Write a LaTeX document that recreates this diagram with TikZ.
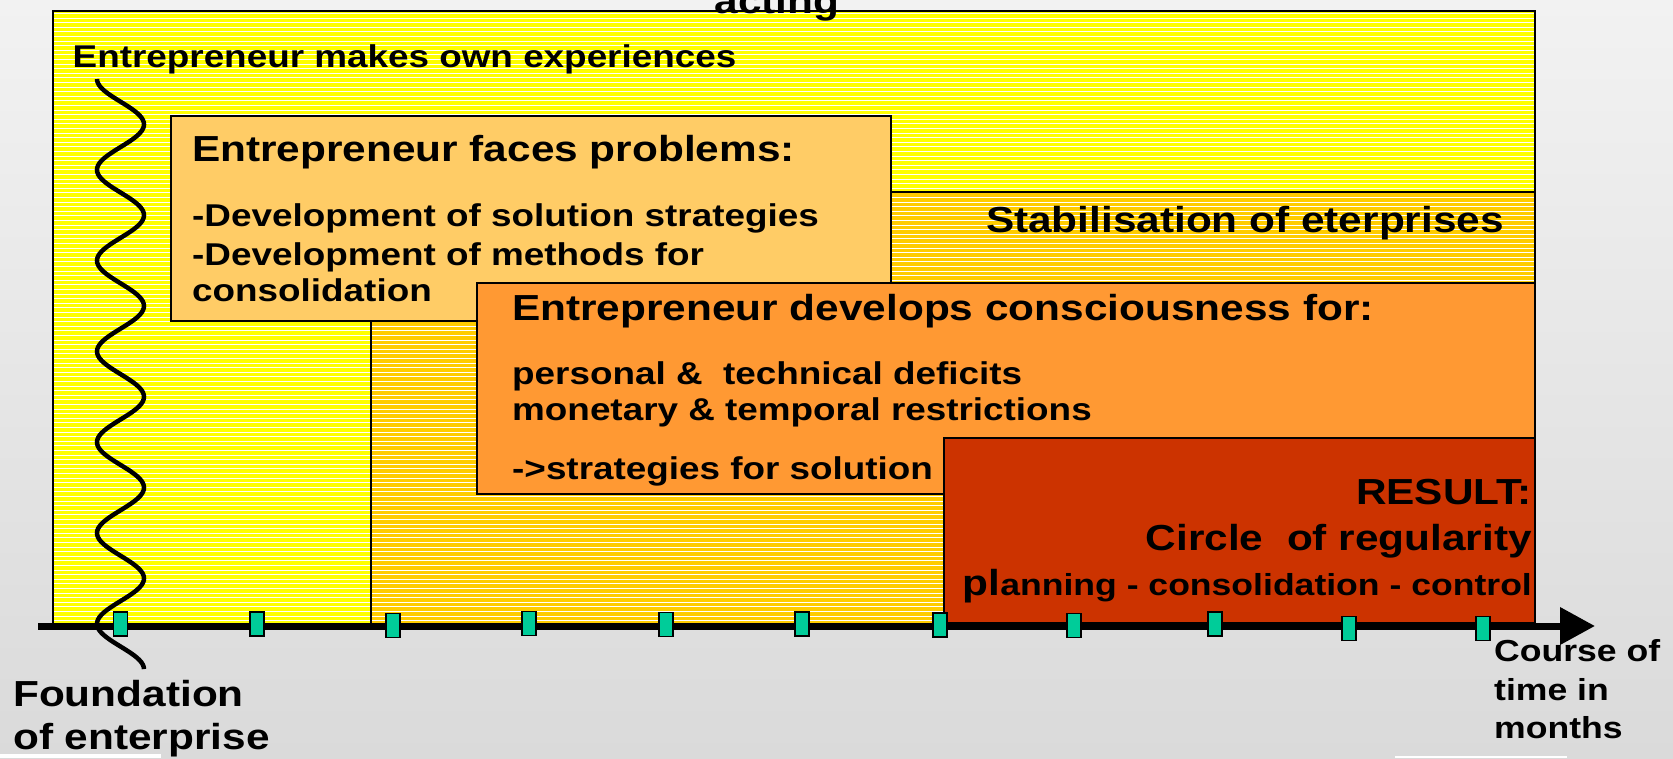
\documentclass[tikz,border=0pt]{standalone}
\usepackage{fontspec}
\setmainfont{Liberation Sans}[FakeStretch=1.17]
\usepackage{tikz}
\usetikzlibrary{arrows.meta}
\definecolor{slideyellow}{HTML}{FFFF00}
\definecolor{slidegold}{HTML}{FFCC00}
\definecolor{probcolor}{HTML}{FFCC66}
\definecolor{conscolor}{HTML}{FF9933}
\definecolor{resultcolor}{HTML}{CC3300}
\definecolor{tickcolor}{HTML}{00CC99}
\definecolor{bgtop}{HTML}{F2F2F2}
\definecolor{bgbot}{HTML}{DADADA}
\newcommand\headsize{\bfseries\fontsize{36.2}{43}\selectfont}
\newcommand\bodysize{\bfseries\fontsize{31.5}{38}\selectfont}
\newcommand\notesize{\bfseries\fontsize{30.4}{37}\selectfont}
\tikzstyle{head}=[inner sep=0pt,font=\headsize]
\tikzstyle{body}=[inner sep=0pt,font=\bodysize]
\tikzstyle{note}=[inner sep=0pt,font=\notesize]
\tikzstyle{hatch}=[white,line width=1.1pt]
\tikzstyle{frame}=[line width=1.5pt]
\tikzstyle{tick}=[draw,line width=1.5pt,fill=tickcolor,minimum width=14pt,minimum height=24pt,inner sep=0pt]
\tikzstyle{axis}=[line width=7pt,-{Triangle[length=35pt,width=36pt]}]
\tikzstyle{wave}=[line width=4.5pt]

\begin{document}
\begin{tikzpicture}[x=1pt,y=-1pt]
	\path[use as bounding box,top color=bgtop,bottom color=bgbot] (0,0) rectangle (1673,758);
	\fill[white] (0,754) rectangle (161,758);
	\fill[white] (1395,756) rectangle (1567,758);
	\fill[slideyellow] (53,11) rectangle (1535,624);
	\fill[slidegold] (371,192) rectangle (1535,624);
	\foreach \y in {13.5,18.1,...,622} \draw[hatch] (54,\y) -- (1534,\y);
	\draw[frame] (53,11) rectangle (1535,624);
	\draw[frame] (371,192) -- (371,624);
	\draw[line width=2.5pt] (371,192) -- (1535,192);
	\draw[frame,fill=probcolor] (171,116) rectangle (891,321);
	\draw[frame,fill=conscolor] (477,283) rectangle (1535,494);
	\draw[frame,fill=resultcolor] (944,438) rectangle (1535,623);
	\node[head,anchor=base] (acting) at (777,13) {acting};
	\node[body,anchor=base west] (own) at (72.5,67) {Entrepreneur makes own experiences};
	\node[head,anchor=base west] (faces) at (192,161) {Entrepreneur faces problems:};
	\node[body,anchor=base west] (dev1) at (192,226) {-Development of solution strategies};
	\node[body,anchor=base west] (dev2) at (192,265) {-Development of methods for};
	\node[body,anchor=base west] (dev3) at (192,301) {consolidation};
	\node[head,anchor=base east] (stab) at (1504,232) {Stabilisation of eterprises};
	\node[head,anchor=base west] (cons) at (512,320) {Entrepreneur develops consciousness for:};
	\node[body,anchor=base west] (pers) at (512,384) {personal \&~ technical deficits};
	\node[body,anchor=base west] (mone) at (512,420) {monetary \& temporal restrictions};
	\node[body,anchor=base west] (strat) at (512,479) {->strategies for solution};
	\node[head,anchor=base east] (res) at (1532,504) {RESULT:};
	\node[head,anchor=base east] (circ) at (1532,550) {Circle~ of regularity};
	\node[note,anchor=base east] (plan) at (1532,595) {{\headsize pl}anning - consolidation - control};
	\node[head,anchor=base west] (found1) at (13,706) {Foundation};
	\node[head,anchor=base west] (found2) at (13,749) {of enterprise};
	\node[note,anchor=base west] (course1) at (1494,661) {Course of};
	\node[note,anchor=base west] (course2) at (1494,700) {time in};
	\node[note,anchor=base west] (course3) at (1494,738) {months};
	\coordinate (axstart) at (38,626);
	\coordinate (axend) at (1595,626);
	\draw[axis] (axstart) -- (axend);
	\draw[wave] plot[domain=0:6.5,samples=261,smooth] ({120.5-23.5*cos(360*\x)},{79+90.8*\x});
	\foreach \x/\y [count=\i] in {120.5/624,257/624,393/625.5,529/623.5,666/624.5,802/624,940/625,1074/625.5,1215/624,1349/628.5,1483/628.5}
		\node[tick] (tick\i) at (\x,\y) {};
\end{tikzpicture}
\end{document}
